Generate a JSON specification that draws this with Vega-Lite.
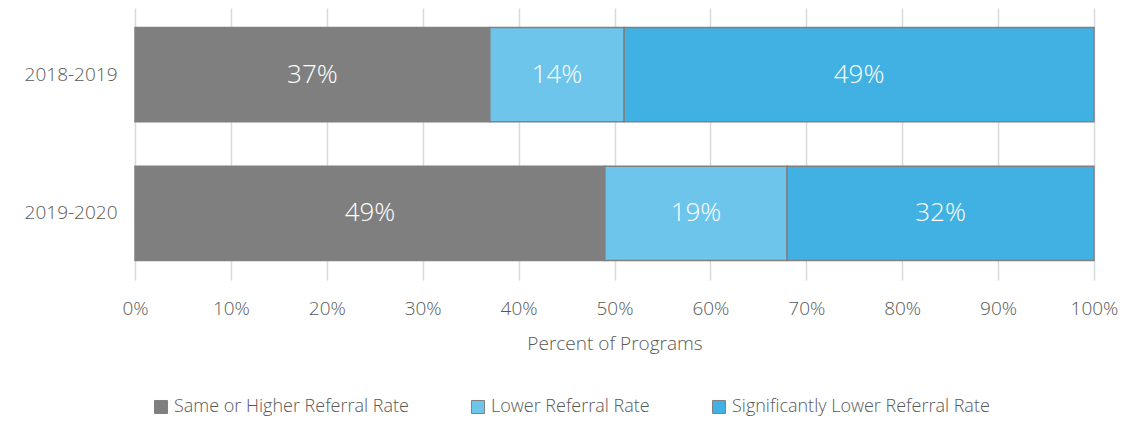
{
  "$schema": "https://vega.github.io/schema/vega-lite/v6.json",
  "autosize": {"type": "none"},
  "padding": {"left": 135, "top": 8, "right": 34, "bottom": 141},
  "width": 959,
  "height": 272,
  "background": "white",
  "config": {"font": "Open Sans", "view": {"stroke": null}},
  "data": {"values": [
    {"year": "2018-2019", "cat": "Same or Higher Referral Rate", "order": 1, "value": 37},
    {"year": "2018-2019", "cat": "Lower Referral Rate", "order": 2, "value": 14},
    {"year": "2018-2019", "cat": "Significantly Lower Referral Rate", "order": 3, "value": 49},
    {"year": "2019-2020", "cat": "Same or Higher Referral Rate", "order": 1, "value": 49},
    {"year": "2019-2020", "cat": "Lower Referral Rate", "order": 2, "value": 19},
    {"year": "2019-2020", "cat": "Significantly Lower Referral Rate", "order": 3, "value": 32}
  ]},
  "transform": [{"calculate": "datum.value + '%'", "as": "label"}],
  "encoding": {
    "y": {"field": "year", "type": "nominal", "sort": ["2018-2019", "2019-2020"],
      "scale": {"paddingInner": 0.32, "paddingOuter": 0.14},
      "axis": {"title": null, "domain": false, "ticks": false, "labelFontSize": 19, "labelColor": "#595959", "labelPadding": 18, "labelFontWeight": 300}},
    "x": {"field": "value", "type": "quantitative", "stack": "zero",
      "scale": {"domain": [0, 100], "nice": false},
      "axis": {"title": "Percent of Programs", "values": [0,10,20,30,40,50,60,70,80,90,100], "labelExpr": "datum.value + '%'",
        "domain": false, "ticks": false, "grid": true, "gridColor": "#d9d9d9", "gridWidth": 1.5,
        "labelFlush": false, "labelOverlap": false, "labelBound": false,
        "labelFontSize": 19, "labelColor": "#595959", "labelPadding": 19, "labelFontWeight": 300,
        "titleFontSize": 19, "titleColor": "#595959", "titleFontWeight": 300, "titlePadding": 16}},
    "order": {"field": "order", "type": "quantitative"}
  },
  "layer": [
    {"mark": {"type": "bar", "stroke": "#808080", "strokeWidth": 1.5},
     "encoding": {"color": {"field": "cat", "type": "nominal",
        "sort": ["Same or Higher Referral Rate", "Lower Referral Rate", "Significantly Lower Referral Rate"],
        "scale": {"domain": ["Same or Higher Referral Rate", "Lower Referral Rate", "Significantly Lower Referral Rate"], "range": ["#7f7f7f", "#6dc5ec", "#41b0e2"]},
        "legend": {"title": null, "orient": "none", "direction": "horizontal", "legendX": 17, "legendY": 390,
          "symbolType": "square", "symbolSize": 170, "symbolStrokeColor": "#808080", "symbolStrokeWidth": 1, "symbolOpacity": 1,
          "labelFontSize": 18, "labelColor": "#595959", "labelFontWeight": 300, "labelLimit": 400, "columnPadding": 60, "labelOffset": 4}}}},
    {"mark": {"type": "text", "color": "white", "fontSize": 26, "fontWeight": 300},
     "encoding": {"x": {"field": "value", "type": "quantitative", "stack": "zero", "bandPosition": 0.5},
       "text": {"field": "label", "type": "nominal"}}}
  ]
}
